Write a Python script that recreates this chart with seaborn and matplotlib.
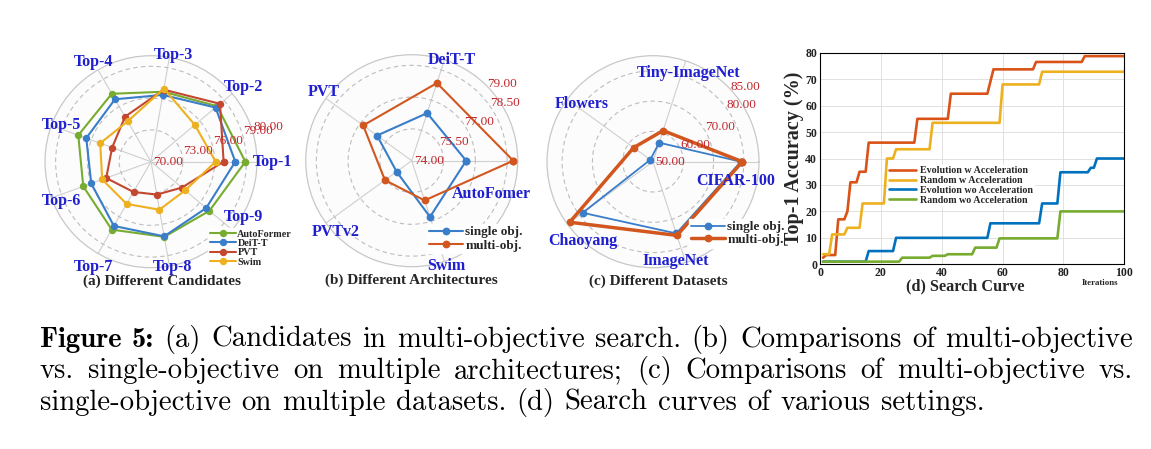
import numpy as np
import pandas as pd
import matplotlib
matplotlib.use('Agg')
import matplotlib.pyplot as plt
import seaborn as sns

# ---------------- data ----------------
cand_axes = ['Top-1', 'Top-2', 'Top-3', 'Top-4', 'Top-5', 'Top-6', 'Top-7', 'Top-8', 'Top-9']
cand_names = ['AutoFormer', 'DeiT-T', 'PVT', 'Swim']
cand_autoformer = [78.9, 78.15, 76.7, 77.4, 77.3, 76.8, 77.4, 77.2, 77.2]
cand_deit = [77.95, 77.95, 76.4, 76.8, 76.5, 76.0, 77.0, 77.15, 76.8]
cand_pvt = [76.85, 78.5, 76.9, 74.9, 73.9, 74.5, 73.3, 73.15, 73.8]
cand_swim = [76.1, 75.4, 77.0, 74.4, 75.1, 74.9, 74.6, 74.6, 74.2]
cand_rticks = [70, 73, 76, 79, 80]

arch_axes = ['AutoFomer', 'DeiT-T', 'PVT', 'PVTv2', 'Swim']
obj_names = ['single obj.', 'multi-obj.']
arch_single = [76.57, 76.36, 76.02, 74.88, 76.79]
arch_multi = [78.79, 77.85, 76.83, 75.56, 75.97]
arch_rticks = [74, 75.5, 77, 78.5, 79]

dset_axes = ['CIFAR-100', 'Tiny-ImageNet', 'Flowers', 'Chaoyang', 'ImageNet']
dset_single = [79.0, 56.6, 51.1, 78.7, 74.9]
dset_multi = [79.5, 60.8, 57.9, 84.0, 75.6]
dset_rticks = [50, 60, 70, 80, 85]

curve_names = ['Evolution w Acceleration', 'Random w Acceleration',
               'Evolution wo Acceleration', 'Random wo Acceleration']
evo_acc_x = [1, 2, 5, 6, 8, 9, 10, 12, 13, 15, 16, 31, 32, 42, 43, 55, 57, 70, 71, 86, 87, 100]
evo_acc_y = [2.5, 3.5, 3.5, 17, 17, 20, 31, 31, 35, 35, 46, 46, 55, 55, 64.5, 64.5, 73.7, 73.7, 76.5, 76.5, 78.7, 78.7]
rnd_acc_x = [1, 3, 4, 8, 9, 13, 14, 21, 22, 24, 25, 36, 37, 59, 60, 72, 73, 100]
rnd_acc_y = [3.8, 3.8, 11.3, 11.3, 13.8, 13.8, 23, 23, 40, 40, 43.5, 43.5, 53.5, 53.5, 68, 68, 72.8, 72.8]
evo_x = [1, 15, 16, 24, 25, 55, 56, 72, 73, 78, 79, 88, 89, 90, 91, 100]
evo_y = [1, 1, 5, 5, 10, 10, 15.5, 15.5, 23, 23, 34.8, 34.8, 36.5, 36.5, 40, 40]
rnd_x = [1, 26, 27, 36, 37, 41, 42, 50, 51, 58, 59, 78, 79, 100]
rnd_y = [1, 1, 2.5, 2.5, 3.2, 3.2, 3.8, 3.8, 6.3, 6.3, 9.8, 9.8, 20, 20]

caption_lines = [
    [('Figure', True), ('5:', True), ('(a)', False), ('Candidates', False), ('in', False),
     ('multi-objective', False), ('search.', False), ('(b)', False), ('Comparisons', False),
     ('of', False), ('multi-objective', False)],
    [('vs.', False), ('single-objective', False), ('on', False), ('multiple', False),
     ('architectures;', False), ('(c)', False), ('Comparisons', False), ('of', False),
     ('multi-objective', False), ('vs.', False)],
    [('single-objective', False), ('on', False), ('multiple', False), ('datasets.', False),
     ('(d)', False), ('Search', False), ('curves', False), ('of', False), ('various', False),
     ('settings.', False)],
]

# ---------------- style ----------------
W, H = 1151, 449
sns.set_theme(style='white')
plt.rcParams['font.family'] = ['Liberation Serif', 'DejaVu Serif']
plt.rcParams['axes.linewidth'] = 0.8

LBL_BLUE = '#1f1fd0'
TICK_RED = '#c0282d'
C_GREEN = '#77ac30'
C_BLUE = '#3a7dc8'
C_RED = '#c4472f'
C_YEL = '#edb120'
C_ORANGE = '#d2571e'

fig = plt.figure(figsize=(W / 100, H / 100), dpi=100)


def px2pt(v):
    return v * 72 / 100


def radar(center, R, names, series, labels, colors, lws, rticks, rangles, lbl_off,
          leg_xy, leg_fs, leg_sp, ms):
    cx, cy = center
    ax = fig.add_axes([(cx - R) / W, (H - cy - R) / H, 2 * R / W, 2 * R / H],
                      projection='polar')
    n = len(names)
    theta = np.linspace(0, 2 * np.pi, n, endpoint=False)
    tc = np.append(theta, theta[0])
    for vals, lab, c, lw in zip(series, labels, colors, lws):
        ax.plot(tc, np.append(vals, vals[0]), color=c, lw=lw, marker='o', ms=ms,
                label=lab, zorder=3)
    ax.set_ylim(rticks[0], rticks[-1])
    ax.set_yticks(rticks[1:-1])
    ax.set_yticklabels([])
    ax.set_xticks(theta)
    ax.set_xticklabels([])
    ax.tick_params(length=0)
    ax.set_facecolor('#fcfcfc')
    ax.xaxis.grid(True, color='#cfcfcf', lw=0.8, ls='-')
    ax.yaxis.grid(True, color='#bdbdbd', lw=0.8, ls=(0, (4, 3)))
    ax.spines['polar'].set_color('#c8c8c8')
    ax.spines['polar'].set_linewidth(0.9)
    # radial tick labels
    for v, a in zip(rticks, rangles):
        ax.annotate(f'{v:.2f}', xy=(np.deg2rad(a), v), xytext=(1.5, 0),
                    textcoords='offset points', ha='left', va='center',
                    color=TICK_RED, fontsize=9.5, zorder=4)
    # axis names
    for name, (dx, dy) in zip(names, lbl_off):
        ax.annotate(name, xy=(0, rticks[0]), xytext=(px2pt(dx), px2pt(dy)),
                    textcoords='offset points', ha='center', va='center',
                    color=LBL_BLUE, fontsize=11.5, fontweight='bold',
                    annotation_clip=False, zorder=5)
    leg = ax.legend(loc='upper left', bbox_to_anchor=(leg_xy[0] / W, 1 - leg_xy[1] / H),
                    bbox_transform=fig.transFigure, frameon=True, fancybox=False,
                    edgecolor='white', facecolor='white', framealpha=1,
                    handlelength=2.6, handletextpad=0.15,
                    labelspacing=leg_sp, borderpad=0.15, borderaxespad=0, numpoints=1,
                    prop={'weight': 'bold', 'size': leg_fs})
    leg.set_zorder(6)
    return ax


# (a) Different Candidates
radar((151, 161.7), 106, cand_axes,
      [cand_autoformer, cand_deit, cand_pvt, cand_swim], cand_names,
      [C_GREEN, C_BLUE, C_RED, C_YEL], [1.5] * 4, cand_rticks, [19] * 5,
      [(121.5, 0), (92.3, 74.5), (22.3, 106.7), (-57.7, 100), (-90, 36.7),
       (-90, -39.3), (-57.7, -105), (21.5, -105), (92.3, -55)],
      (208, 228), 7.3, 0.02, 4.3)

# (b) Different Architectures
radar((411.7, 160.7), 106, arch_axes, [arch_single, arch_multi], obj_names,
      [C_BLUE, C_ORANGE], [1.5, 1.5], arch_rticks, [37, 37, 37, 37, 46],
      [(80, -33.5), (40.5, 100.7), (-88.4, 69), (-75.9, -71.8), (35, -105.1)],
      (427, 224), 9.5, 0.08, 4.6)

# (c) Different Datasets
radar((653, 161.7), 106, dset_axes, [dset_single, dset_multi], obj_names,
      [C_BLUE, C_ORANGE], [1.3, 2.5], dset_rticks, [34, 34, 35, 38.6, 45],
      [(82.5, -19.1), (35.8, 88.4), (-70.8, 58), (-69.7, -79.1), (22.8, -99.1)],
      (689, 219), 9.5, 0.02, 4.6)

# (d) Search Curve
axd = fig.add_axes([820 / W, (H - 264.3) / H, 304.3 / W, 211.6 / H])
frames = []
for name, xs, ys in zip(curve_names, [evo_acc_x, rnd_acc_x, evo_x, rnd_x],
                        [evo_acc_y, rnd_acc_y, evo_y, rnd_y]):
    frames.append(pd.DataFrame({'iteration': xs, 'accuracy': ys, 'setting': name}))
df = pd.concat(frames, ignore_index=True)
pal = dict(zip(curve_names, ['#d95319', '#edb120', '#0072bd', '#77ac30']))
sns.lineplot(data=df, x='iteration', y='accuracy', hue='setting', hue_order=curve_names,
             palette=pal, linewidth=1.9, estimator=None, ax=axd)
axd.set_xlim(0, 100)
axd.set_ylim(0, 80)
axd.set_xticks(range(0, 101, 20))
axd.set_yticks(range(0, 81, 10))
axd.grid(True, color='#dcdcdc', lw=0.6)
for s in axd.spines.values():
    s.set_color('black')
    s.set_linewidth(0.8)
axd.tick_params(direction='in', length=2.5, width=0.6, labelsize=8.5, pad=2)
for t in axd.get_xticklabels() + axd.get_yticklabels():
    t.set_fontweight('bold')
    t.set_color('#222222')
axd.set_xlabel('')
axd.set_ylabel('Top-1 Accuracy (%)', fontsize=14.5, fontweight='bold', labelpad=1)
axd.text(0.92, -0.07, 'Iterations', transform=axd.transAxes, ha='center', va='top',
         fontsize=6.3, fontweight='bold')
h, l = axd.get_legend_handles_labels()
axd.legend(h, l, loc='upper left', bbox_to_anchor=(0.222, 0.468), frameon=True,
           fancybox=False, edgecolor='white', facecolor='white', framealpha=1,
           handlelength=2.7, handletextpad=0.4, labelspacing=0.08, borderpad=0.1,
           borderaxespad=0, prop={'weight': 'bold', 'size': 7.2})

# panel titles
for txt, x, y in [('(a) Different Candidates', 161.7, 281.7),
                  ('(b) Different Architectures', 411.5, 280.5),
                  ('(c) Different Datasets', 658.3, 281.7),
                  ('(d) Search Curve', 965, 286)]:
    fig.text(x / W, 1 - y / H, txt, ha='center', va='center',
             fontsize=11.7 if txt.startswith('(d)') else 11, fontweight='bold')

# caption, justified like the LaTeX source
fig.canvas.draw()
rend = fig.canvas.get_renderer()


def make_words(words, size):
    objs = [fig.text(0, 0, w, fontsize=size, family='cmb10' if b else 'cmr10',
                     ha='left', va='baseline', color='black') for w, b in words]
    widths = [o.get_window_extent(rend).width for o in objs]
    return objs, widths


probe, pw = make_words(caption_lines[2], 18)
natural = sum(pw) + (len(pw) - 1) * 0.36 * 18 * 100 / 72
for o in probe:
    o.remove()
cap_size = 18 * 945 / natural

x0, x1 = 40, 1133
for i, (words, yb) in enumerate(zip(caption_lines, [346.7, 378.3, 409.6])):
    objs, widths = make_words(words, cap_size)
    if i < 2:
        gap = (x1 - x0 - sum(widths)) / (len(objs) - 1)
    else:
        gap = 0.36 * cap_size * 100 / 72
    x = x0
    for o, wd in zip(objs, widths):
        o.set_position((x / W, 1 - yb / H))
        x += wd + gap

fig.savefig('out.png', dpi=100)
